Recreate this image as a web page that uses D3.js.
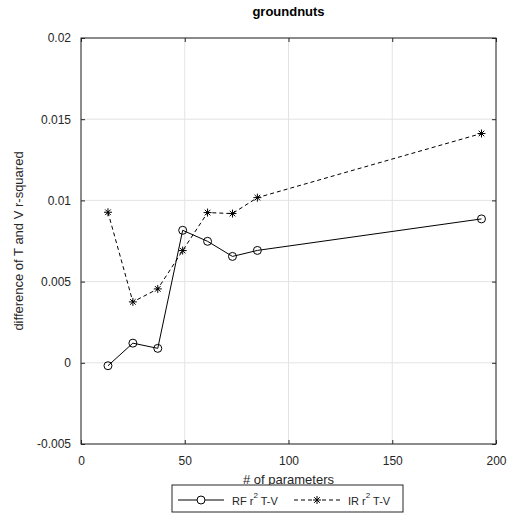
<!DOCTYPE html>
<html>
<head>
<meta charset="utf-8">
<script src="https://cdn.jsdelivr.net/npm/d3@7"></script>
<style>
  body { margin: 0; background: #fff; }
  text { font-family: "Liberation Sans", Arial, sans-serif; }
</style>
</head>
<body>
<script>
// data
var params = [13, 25, 37, 49, 61, 73, 85, 193];
var rfDiff = [-0.00018, 0.00121, 0.00089, 0.00816, 0.00748, 0.00655, 0.00692, 0.00886];
var irDiff = [0.00927, 0.00375, 0.00455, 0.00691, 0.00925, 0.00919, 0.01017, 0.01412];
var xTicks = [0, 50, 100, 150, 200];
var yTicks = [-0.005, 0, 0.005, 0.01, 0.015, 0.02];

var W = 507, H = 514;
var margin = {top: 38, right: 11, bottom: 70, left: 81},
    width = W - margin.left - margin.right,
    height = H - margin.top - margin.bottom;

var svg = d3.select("body").append("svg")
    .attr("width", W)
    .attr("height", H);

var g = svg.append("g")
    .attr("transform", "translate(" + margin.left + "," + margin.top + ")");

var x = d3.scaleLinear().domain([0, 200]).range([0, width]);
var y = d3.scaleLinear().domain([-0.005, 0.02]).range([height, 0]);

var axisCol = "#262626";

// grid
g.selectAll("line.gx").data(xTicks).enter().append("line")
    .attr("x1", d => x(d)).attr("x2", d => x(d))
    .attr("y1", 0).attr("y2", height)
    .attr("stroke", "#e3e3e3");
g.selectAll("line.gy").data(yTicks).enter().append("line")
    .attr("y1", d => y(d)).attr("y2", d => y(d))
    .attr("x1", 0).attr("x2", width)
    .attr("stroke", "#e3e3e3");

// axes with inward ticks on all four sides
// plain hyphen for negatives, like the original
function fmt(d) { return String(+d.toFixed(4)); }
g.append("g").attr("transform", "translate(0," + height + ")")
    .call(d3.axisBottom(x).tickValues(xTicks).tickSizeInner(-4).tickSizeOuter(0).tickPadding(12));
g.append("g")
    .call(d3.axisTop(x).tickValues(xTicks).tickSizeInner(-4).tickSizeOuter(0).tickFormat(""));
g.append("g")
    .call(d3.axisLeft(y).tickValues(yTicks).tickSizeInner(-4).tickSizeOuter(0).tickPadding(10).tickFormat(fmt));
g.append("g").attr("transform", "translate(" + width + ",0)")
    .call(d3.axisRight(y).tickValues(yTicks).tickSizeInner(-4).tickSizeOuter(0).tickFormat(""));

g.selectAll(".domain").remove();
g.selectAll(".tick line").attr("stroke", axisCol);
g.selectAll(".tick text").attr("fill", axisCol).attr("font-size", 12)
    .attr("font-family", "Liberation Sans, Arial, sans-serif");

g.append("rect")
    .attr("width", width).attr("height", height)
    .attr("fill", "none").attr("stroke", axisCol);

// series
var line = d3.line()
    .x(d => x(d[0]))
    .y(d => y(d[1]));

var rf = params.map((p, i) => [p, rfDiff[i]]);
var ir = params.map((p, i) => [p, irDiff[i]]);

g.append("path").datum(ir)
    .attr("d", line).attr("fill", "none")
    .attr("stroke", "#000").attr("stroke-dasharray", "4,3");
g.append("path").datum(rf)
    .attr("d", line).attr("fill", "none")
    .attr("stroke", "#000");

g.selectAll("circle.rf").data(rf).enter().append("circle")
    .attr("cx", d => x(d[0])).attr("cy", d => y(d[1]))
    .attr("r", 4).attr("fill", "none").attr("stroke", "#000");

function star(sel, cx, cy) {
  var s = 4;
  var p = "M" + (cx - s) + "," + cy + "h" + (2 * s) +
      "M" + cx + "," + (cy - s) + "v" + (2 * s) +
      "M" + (cx - s * 0.7) + "," + (cy - s * 0.7) + "l" + (1.4 * s) + "," + (1.4 * s) +
      "M" + (cx - s * 0.7) + "," + (cy + s * 0.7) + "l" + (1.4 * s) + "," + (-1.4 * s);
  sel.append("path").attr("d", p).attr("stroke", "#000").attr("fill", "none");
}
ir.forEach(d => star(g, x(d[0]), y(d[1])));

// title and labels
svg.append("text")
    .attr("x", margin.left + width / 2).attr("y", 16)
    .attr("text-anchor", "middle")
    .attr("font-size", 13).attr("font-weight", "bold")
    .text("groundnuts");

svg.append("text")
    .attr("x", margin.left + width / 2).attr("y", 484)
    .attr("text-anchor", "middle")
    .attr("font-size", 13).attr("fill", axisCol)
    .text("# of parameters");

svg.append("text")
    .attr("transform", "translate(23," + (margin.top + height / 2) + ") rotate(-90)")
    .attr("text-anchor", "middle")
    .attr("font-size", 13).attr("fill", axisCol)
    .text("difference of T and V r-squared");

// legend
var lg = svg.append("g").attr("transform", "translate(172,485)");
lg.append("rect").attr("width", 231).attr("height", 27)
    .attr("fill", "#fff").attr("stroke", axisCol);

var legendItems = [
  {name: "RF", dash: null, off: 6},
  {name: "IR", dash: "4,3", off: 122}
];
legendItems.forEach(function(it) {
  var ly = 15;
  lg.append("line").attr("x1", it.off).attr("x2", it.off + 46)
      .attr("y1", ly).attr("y2", ly)
      .attr("stroke", "#000").attr("stroke-dasharray", it.dash);
  if (it.name === "RF") {
    lg.append("circle").attr("cx", it.off + 23).attr("cy", ly).attr("r", 4)
        .attr("fill", "#fff").attr("stroke", "#000");
  } else {
    lg.append("rect").attr("x", it.off + 19).attr("y", ly - 5).attr("width", 8).attr("height", 10).attr("fill", "#fff");
    star(lg, it.off + 23, ly);
  }
  var t = lg.append("text").attr("x", it.off + 54).attr("y", ly + 5)
      .attr("font-size", 11).attr("fill", axisCol);
  t.append("tspan").text(it.name + " r");
  t.append("tspan").attr("dy", -7).attr("font-size", 8).text("2");
  t.append("tspan").attr("dy", 7).text(" T-V");
});
</script>
</body>
</html>
